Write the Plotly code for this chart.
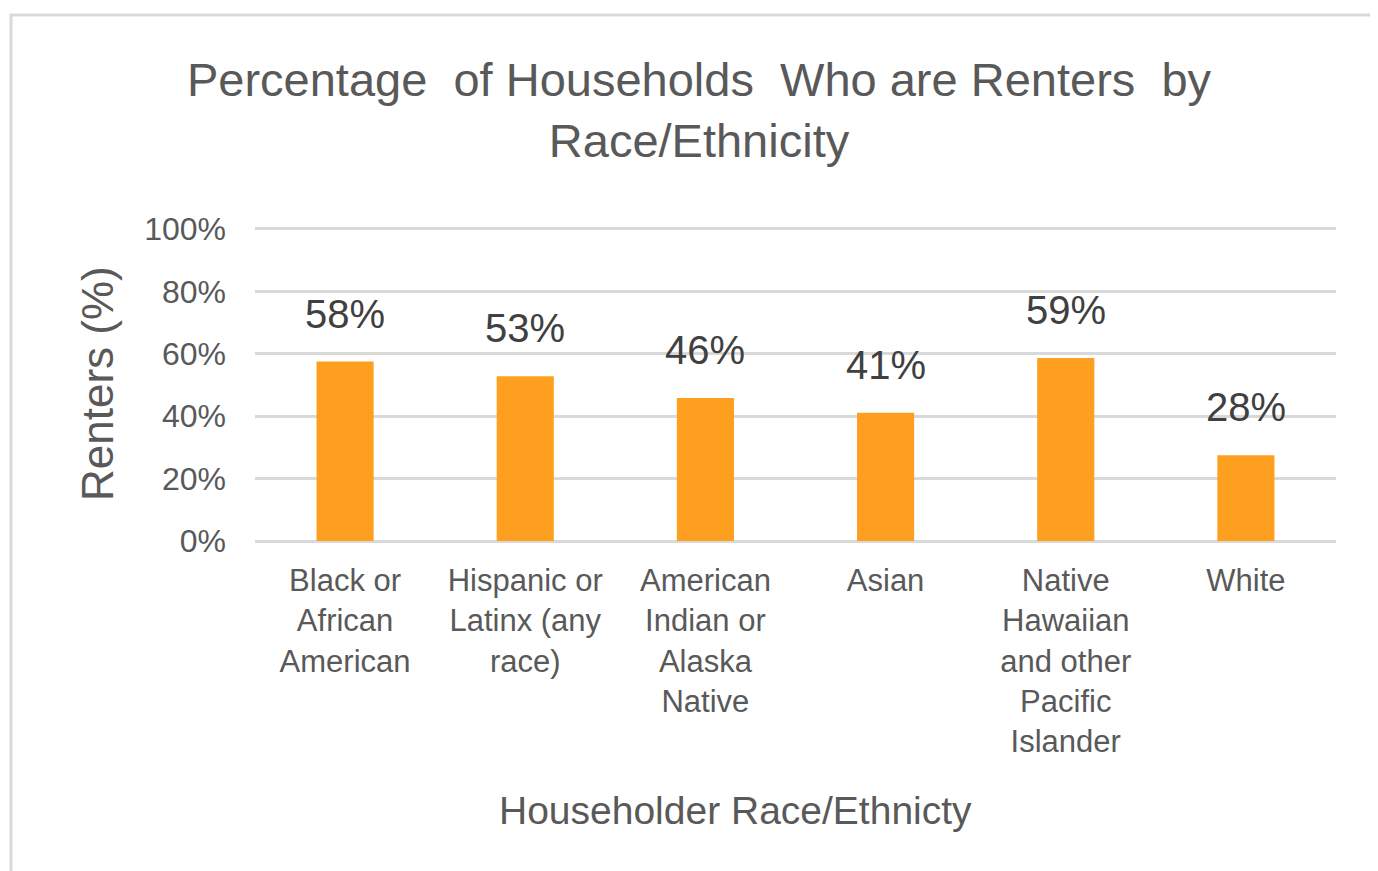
import plotly.graph_objects as go

# data
categories = [
    "Black or<br>African<br>American",
    "Hispanic or<br>Latinx (any<br>race)",
    "American<br>Indian or<br>Alaska<br>Native",
    "Asian",
    "Native<br>Hawaiian<br>and other<br>Pacific<br>Islander",
    "White",
]
renters_pct = [57.5, 52.8, 45.8, 41.1, 58.6, 27.5]
value_labels = ["58%", "53%", "46%", "41%", "59%", "28%"]
y_ticks = [0, 20, 40, 60, 80, 100]
y_tick_text = ["0%", "20%", "40%", "60%", "80%", "100%"]

FONT = "Liberation Sans"
GRAY = "#595959"
OFF = 8  # page body margin in the browser
W, H = 1378 - OFF, 871 - OFF

fig = go.Figure()
fig.add_trace(go.Bar(x=categories,
                     y=renters_pct,
                     marker_color='#FF9F1F',
                     marker_line_width=0,
                     hoverinfo='skip'))

# data labels sit a bit above each bar
for cat, val, lab in zip(categories, renters_pct, value_labels):
    fig.add_annotation(x=cat, y=val, text=lab, showarrow=False,
                       yanchor='middle', yshift=48,
                       font=dict(family=FONT, size=40, color='#404040'))

# axis titles
fig.add_annotation(xref='paper', yref='paper', x=(735 - 255) / 1081, y=(541 - 810) / 314,
                   text="Householder Race/Ethnicty", showarrow=False,
                   xanchor='center', yanchor='middle',
                   font=dict(family=FONT, size=39, color=GRAY))
fig.add_annotation(xref='paper', yref='paper', x=(97 - 255) / 1081, y=0.5,
                   text="Renters (%)", showarrow=False, textangle=-90,
                   xanchor='center', yanchor='middle',
                   font=dict(family=FONT, size=44, color=GRAY))

# chart border (only top/left visible in the crop)
fig.add_shape(type='rect', xref='paper', yref='paper',
              x0=(11 - 255) / 1081, x1=(1420 - 255) / 1081,
              y0=(541 - 920) / 314, y1=(541 - 15) / 314,
              line=dict(color='#d9d9d9', width=3), fillcolor='rgba(0,0,0,0)', layer='below')

fig.update_layout(title=dict(text="Percentage  of Households  Who are Renters  by<br>Race/Ethnicity",
                             x=(699 - OFF) / W, xanchor='center',
                             y=1 - (96 - OFF) / H, yanchor='middle', yref='container',
                             font=dict(family=FONT, size=47, color=GRAY)),
                  width=W,
                  height=H,
                  bargap=0.683,
                  showlegend=False,
                  paper_bgcolor='white',
                  plot_bgcolor='white',
                  font=dict(family=FONT, color=GRAY),
                  margin=dict(t=227 - OFF, b=H + OFF - 541, l=255 - OFF, r=W + OFF - 1336))
fig.update_xaxes(tickfont=dict(family=FONT, size=31, color=GRAY),
                 showgrid=False, showline=False, ticks='',
                 ticklabelstandoff=18)
fig.update_yaxes(range=[0, 100.6], tickvals=y_ticks, ticktext=y_tick_text,
                 tickfont=dict(family=FONT, size=32, color=GRAY),
                 showgrid=True, gridcolor='#d9d9d9', gridwidth=3,
                 zeroline=True, zerolinecolor='#d9d9d9', zerolinewidth=3,
                 showline=False, ticks='', ticklabelstandoff=28)

fig.write_html("out.html")
